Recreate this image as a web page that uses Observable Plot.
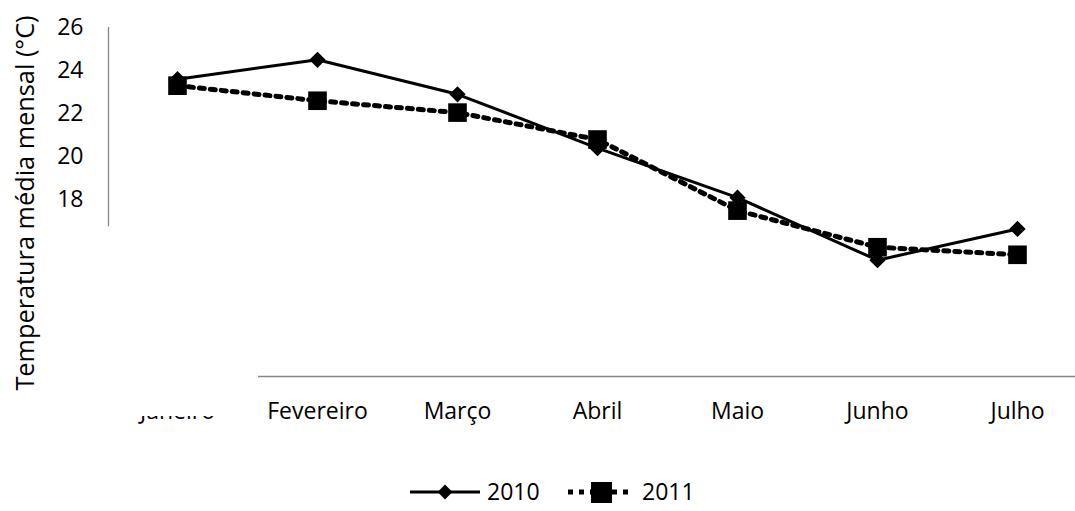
<!DOCTYPE html>
<html><head><meta charset="utf-8">
<script src="https://cdn.jsdelivr.net/npm/d3@7"></script>
<script src="https://cdn.jsdelivr.net/npm/@observablehq/plot@0.6"></script>
<style>body{margin:0;background:#fff;font-family:"Open Sans",sans-serif;} #c{width:1075px;}</style>
</head><body><div id="c"></div>
<script>
const months = ["Janeiro","Fevereiro","Março","Abril","Maio","Junho","Julho"];
const t2010 = [23.6, 24.5, 22.9, 20.4, 18.1, 15.2, 16.65];
const t2011 = [23.3, 22.6, 22.05, 20.8, 17.5, 15.8, 15.45];
const yTicks = [18, 20, 22, 24, 26];
const seriesNames = ["2010", "2011"];
const yLabel = "Temperatura média mensal (°C)";

const d2010 = months.map((m, i) => ({month: m, t: t2010[i]}));
const d2011 = months.map((m, i) => ({month: m, t: t2011[i]}));

const font = "Open Sans";
const fs = 23;
const plot = Plot.plot({
  width: 1075, height: 460,
  marginLeft: 108, marginRight: 0, marginTop: 27, marginBottom: 84,
  style: {fontFamily: font, fontSize: fs + "px", color: "#000", background: "#fff"},
  x: {type: "point", domain: months, range: [107, 1087], padding: 0.5},
  y: {domain: [9.8, 26]},
  marks: [
    Plot.ruleY([9.8], {stroke: "#868686", strokeWidth: 1.3}),
    Plot.axisX({tickSize: 0, tickPadding: 26, label: null, fontSize: fs}),
    Plot.axisY(yTicks, {tickSize: 0, tickPadding: 25, fontSize: fs, label: null}),
    Plot.text([yLabel], {frameAnchor: "left", rotate: -90, dx: -83, dy: 1, fontSize: 25.3, textAnchor: "middle", lineAnchor: "middle", fill: "#000"}),
    Plot.ruleX(["Janeiro"], {y1: 16.75, y2: 26, dx: -69, stroke: "#868686", strokeWidth: 1.3}),
    Plot.line(d2010, {x: "month", y: "t", stroke: "#000", strokeWidth: 3}),
    Plot.dot(d2010, {x: "month", y: "t", symbol: "square", r: 6.5, rotate: 45, fill: "#000", stroke: "none"}),
    Plot.line(d2011, {x: "month", y: "t", stroke: "#000", strokeWidth: 5, strokeDasharray: "5,6"}),
    Plot.dot(d2011, {x: "month", y: "t", symbol: "square", r: 10.5, fill: "#000", stroke: "none"})
  ]
});
document.getElementById("c").appendChild(plot);

// white block hiding part of first category label (as in reference)
d3.select(plot).append("rect").attr("x", 95).attr("y", 229).attr("width", 163).attr("height", 187).attr("fill", "#fff");

// legend
const lg = d3.select("#c").append("svg").attr("width", 1075).attr("height", 51).style("display", "block");
const cy = 32;
lg.append("line").attr("x1", 410).attr("x2", 480).attr("y1", cy).attr("y2", cy).attr("stroke", "#000").attr("stroke-width", 3);
lg.append("path").attr("d", d3.symbol(d3.symbolSquare, 110)()).attr("transform", `translate(445,${cy}) rotate(45)`).attr("fill", "#000");
lg.append("text").attr("x", 487).attr("y", cy).attr("dy", "0.36em").style("font", `${fs}px "${font}"`).text(seriesNames[0]);
lg.append("line").attr("x1", 568).attr("x2", 632).attr("y1", cy).attr("y2", cy).attr("stroke", "#000").attr("stroke-width", 5).attr("stroke-dasharray", "5,6");
lg.append("rect").attr("x", 591).attr("y", cy - 10).attr("width", 21).attr("height", 21).attr("fill", "#000");
lg.append("text").attr("x", 642).attr("y", cy).attr("dy", "0.36em").style("font", `${fs}px "${font}"`).text(seriesNames[1]);
</script></body></html>
